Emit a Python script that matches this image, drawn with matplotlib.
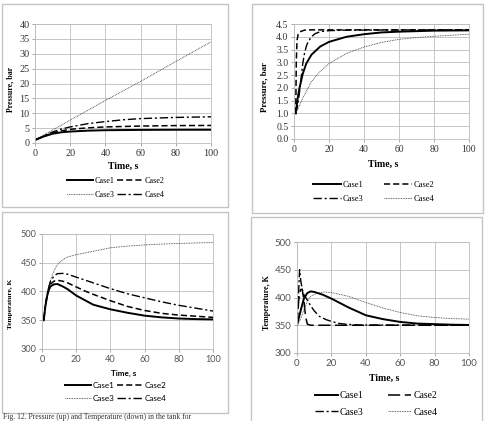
import matplotlib
matplotlib.use("Agg")
import matplotlib.pyplot as plt
from matplotlib.patches import Rectangle
from matplotlib.lines import Line2D

W, H = 488, 421

# ---- top left: pressure, bar
p1_t = [0, 5, 10, 15, 20, 30, 40, 50, 60, 80, 100]
p1_case1 = [1, 2.2, 3.1, 3.6, 3.85, 4.15, 4.3, 4.35, 4.4, 4.45, 4.45]
p1_case2 = [1, 2.3, 3.4, 4.1, 4.6, 5.1, 5.4, 5.55, 5.7, 5.85, 5.9]
p1_case3 = [1, 2.7, 4.4, 6.0, 7.7, 11.0, 14.3, 17.5, 20.7, 27.4, 34.0]
p1_case4 = [1, 2.4, 3.7, 4.7, 5.4, 6.5, 7.2, 7.8, 8.2, 8.6, 8.8]

# ---- top right: pressure, bar
p2_t1 = [1, 2, 3, 5, 7, 10, 15, 20, 30, 40, 50, 60, 80, 100]
p2_case1 = [1.0, 1.55, 1.95, 2.55, 2.95, 3.3, 3.62, 3.8, 4.0, 4.1, 4.17, 4.2, 4.24, 4.25]
p2_t2 = [1, 1.3, 1.7, 2.4, 3.2, 4.3, 6, 10, 30, 100]
p2_case2 = [1.0, 3.0, 3.85, 4.1, 4.18, 4.22, 4.26, 4.27, 4.27, 4.27]
p2_t3 = [1, 2, 3, 4, 5, 6, 7, 8, 10, 12, 15, 20, 30, 100]
p2_case3 = [1.0, 1.3, 1.75, 2.35, 2.95, 3.35, 3.62, 3.8, 4.0, 4.12, 4.2, 4.24, 4.26, 4.27]
p2_t4 = [1, 3, 5, 10, 15, 20, 30, 40, 50, 60, 70, 80, 90, 100]
p2_case4 = [1.0, 1.3, 1.6, 2.25, 2.65, 2.95, 3.35, 3.6, 3.78, 3.9, 3.97, 4.02, 4.06, 4.1]

# ---- bottom left: temperature, K
t3_t = [1, 2, 3, 4, 5, 7, 9, 12, 15, 20, 25, 30, 40, 50, 60, 70, 80, 90, 100]
t3_case1 = [350, 375, 392, 403, 409, 412.5, 413, 409, 404, 393, 385, 377, 369, 363, 358, 355, 353, 352, 351.5]
t3_case2 = [350, 375, 393, 406, 413, 418, 419.5, 418, 415, 408, 401, 395, 384, 374, 367, 362, 359, 357, 355]
t3_case3 = [350, 378, 398, 410, 420, 436, 447, 455, 460, 464, 467, 470, 476, 479, 481, 482.5, 483.5, 484.5, 485]
t3_case4 = [350, 376, 395, 408, 418, 427, 431, 431.5, 430, 425, 420, 415, 405, 396, 389, 382, 376, 371, 366]

# ---- bottom right: temperature, K
t4_t1 = [0, 2, 4, 6, 8, 10, 15, 20, 30, 40, 50, 60, 70, 80, 90, 100]
t4_case1 = [350, 375, 398, 408, 411, 410, 405, 398, 382, 368, 361, 356, 353, 352, 351, 350.5]
t4_t2 = [0, 1, 2, 3, 4, 5, 6, 8, 100]
t4_case2 = [350, 395, 414, 415, 395, 365, 352, 350, 350]
t4_t3 = [0, 0.8, 1.5, 2.2, 3, 4, 5.5, 8, 10, 13, 17, 21, 25, 28, 35, 100]
t4_case3 = [350, 400, 450, 430, 415, 405, 398, 385, 376, 366, 360, 356, 353, 352, 350.5, 350]
t4_t4 = [0, 2, 4, 6, 8, 12, 16, 20, 30, 40, 50, 60, 70, 80, 90, 100]
t4_case4 = [350, 360, 378, 393, 402, 408, 410, 409, 402, 391, 381, 373, 367, 364, 362, 361]

x_ticks = [0, 20, 40, 60, 80, 100]
cases = ["Case1", "Case2", "Case3", "Case4"]

SERIF = ["Liberation Serif", "DejaVu Serif"]
SANS = ["Lato", "DejaVu Sans"]

SOLID = dict(color="black", lw=1.4, ls="-")
DASH = dict(color="black", lw=1.1, ls=(0, (4, 2)))
LONGDASH = dict(color="black", lw=1.1, ls=(0, (8, 3)))
DOT = dict(color="#333333", lw=0.6, ls=(0, (1, 1)))
DASHDOT = dict(color="black", lw=1.0, ls=(0, (6, 2, 1.5, 2)))


def box(l, t, r, b):
    return [l / W, 1 - b / H, (r - l) / W, (b - t) / H]


def px(x, y):
    return x / W, 1 - y / H


fig = plt.figure(figsize=(W / 100, H / 100), dpi=100)

# panel frames
for l, t, r, b in [(2, 4, 228, 207), (252, 4, 483, 213), (2, 212, 228, 413), (251, 217, 482, 430)]:
    fig.patches.append(Rectangle((l / W, 1 - b / H), (r - l) / W, (b - t) / H,
                                 transform=fig.transFigure, fill=False,
                                 edgecolor="#c4c4c4", lw=1.0))


def setup(ax, ylim, yticks, font, size, ylabel_fmt=None, tickcolor="#333333"):
    ax.set_xlim(0, 100)
    ax.set_ylim(*ylim)
    ax.set_xticks(x_ticks)
    ax.set_yticks(yticks)
    if ylabel_fmt:
        ax.set_yticklabels([ylabel_fmt % v for v in yticks])
    ax.grid(True, color="#bdbdbd", lw=0.6)
    ax.set_axisbelow(True)
    for s in ax.spines.values():
        s.set_color("#bdbdbd")
        s.set_linewidth(0.6)
    ax.tick_params(length=2, width=0.6, color="#9a9a9a", pad=2,
                   labelsize=size, labelcolor=tickcolor)
    for lab in ax.get_xticklabels() + ax.get_yticklabels():
        lab.set_family(font)


def legend(handles, center, font, size, colsp, hl):
    h = [handles[0], handles[2], handles[1], handles[3]]
    lab = [cases[0], cases[2], cases[1], cases[3]]
    fig.legend(h, lab, ncol=2, loc="center", bbox_to_anchor=px(*center),
               frameon=False, prop=dict(family=font, size=size),
               handlelength=hl, handletextpad=0.2, columnspacing=colsp,
               labelspacing=0.8, borderpad=0)


# ---- panel 1
ax1 = fig.add_axes(box(35, 24, 211, 143))
ax1.plot(p1_t, p1_case1, **SOLID)
ax1.plot(p1_t, p1_case2, **DASH)
ax1.plot(p1_t, p1_case3, **DOT)
ax1.plot(p1_t, p1_case4, **DASHDOT)
setup(ax1, (0, 40), list(range(0, 41, 5)), SERIF, 7.3)
fig.text(*px(10, 89), "Pressure, bar", rotation=90, ha="center", va="center",
         family=SERIF, weight="bold", size=5.7)
fig.text(*px(123, 166), "Time, s", ha="center", va="center",
         family=SERIF, weight="bold", size=7)
legend([Line2D([], [], **SOLID), Line2D([], [], **DASH),
        Line2D([], [], **DOT), Line2D([], [], **DASHDOT)], (116, 188), SERIF, 5.9, 0.3, 3.2)

# ---- panel 2
ax2 = fig.add_axes(box(294, 24, 469, 139))
ax2.plot(p2_t1, p2_case1, **SOLID)
ax2.plot(p2_t2, p2_case2, **DASH)
ax2.plot(p2_t3, p2_case3, **DASHDOT)
ax2.plot(p2_t4, p2_case4, **DOT)
setup(ax2, (0, 4.5), [i * 0.5 for i in range(10)], SERIF, 7, "%.1f")
fig.text(*px(264, 87), "Pressure, bar", rotation=90, ha="center", va="center",
         family=SERIF, weight="bold", size=6.3)
fig.text(*px(383, 164), "Time, s", ha="center", va="center",
         family=SERIF, weight="bold", size=7)
legend([Line2D([], [], **SOLID), Line2D([], [], **DASH),
        Line2D([], [], **DASHDOT), Line2D([], [], **DOT)], (374, 192), SERIF, 6.1, 2.4, 3.3)

# ---- panel 3
ax3 = fig.add_axes(box(42, 234, 213, 349))
ax3.plot(t3_t, t3_case1, **SOLID)
ax3.plot(t3_t, t3_case2, **DASH)
ax3.plot(t3_t, t3_case3, **DOT)
ax3.plot(t3_t, t3_case4, **DASHDOT)
setup(ax3, (300, 500), list(range(300, 501, 50)), SANS, 6.6, tickcolor="#555555")
fig.text(*px(11, 304), "Temperature, K", rotation=90, ha="center", va="center",
         family=SERIF, weight="bold", size=5.3)
fig.text(*px(124, 373), "Time, s", ha="center", va="center",
         family=SANS, weight="bold", size=5.9)
legend([Line2D([], [], **SOLID), Line2D([], [], **DASH),
        Line2D([], [], **DOT), Line2D([], [], **DASHDOT)], (116, 392), SANS, 5.9, 0.3, 3.2)

# ---- panel 4
ax4 = fig.add_axes(box(297, 242, 469, 353))
ax4.plot(t4_t1, t4_case1, **SOLID)
ax4.plot(t4_t2, t4_case2, **LONGDASH)
ax4.plot(t4_t3, t4_case3, **DASHDOT)
ax4.plot(t4_t4, t4_case4, **DOT)
setup(ax4, (300, 500), list(range(300, 501, 50)), SANS, 7, tickcolor="#555555")
fig.text(*px(267, 303), "Temperature, K", rotation=90, ha="center", va="center",
         family=SERIF, weight="bold", size=5.8)
fig.text(*px(384, 378), "Time, s", ha="center", va="center",
         family=SERIF, weight="bold", size=7)
legend([Line2D([], [], **SOLID), Line2D([], [], **LONGDASH),
        Line2D([], [], **DASHDOT), Line2D([], [], **DOT)], (376, 404), SERIF, 7, 2.5, 2.4)

fig.text(*px(3, 417), "Fig. 12. Pressure (up) and Temperature (down) in the tank for",
         ha="left", va="center", family=SERIF, size=5.5, color="#333333")

fig.savefig("out.png", dpi=100)
